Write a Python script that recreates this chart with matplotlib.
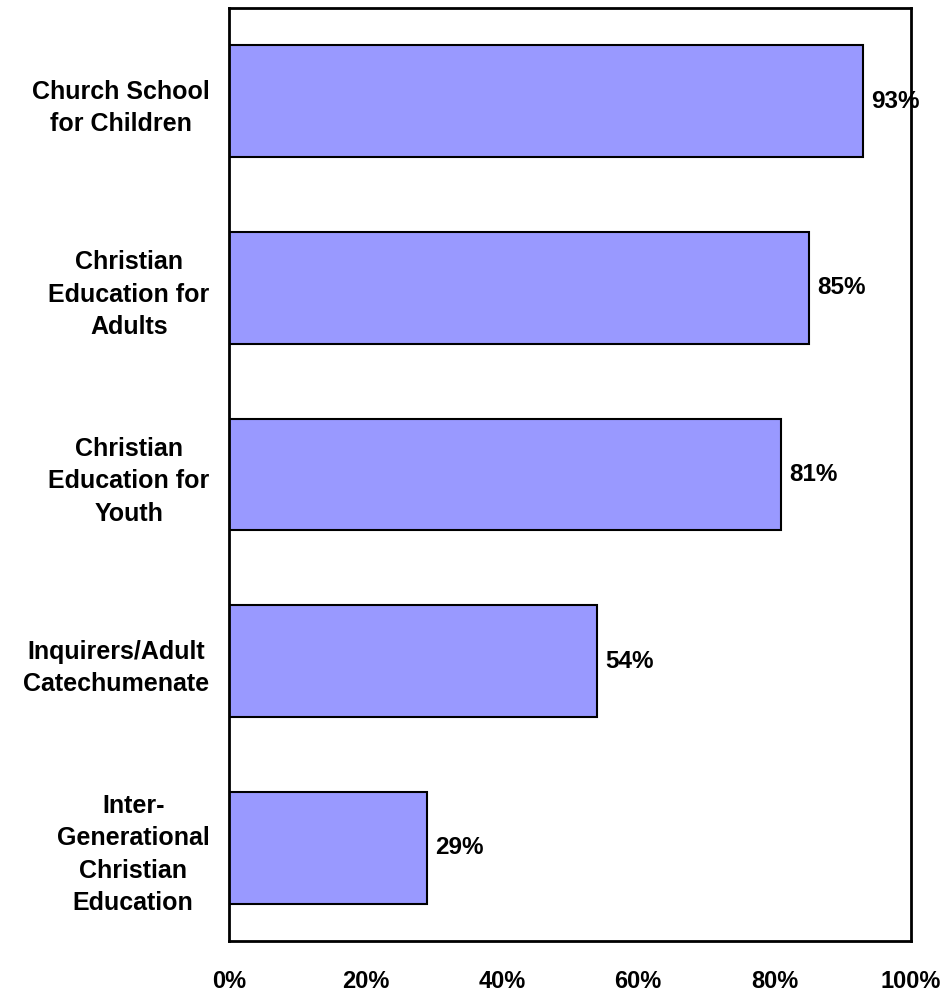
import matplotlib.pyplot as plt
import numpy as np

plt.rcParams['font.family'] = ['Liberation Sans', 'DejaVu Sans']
plt.rcParams['font.weight'] = 'bold'

programs = ["Church School\nfor Children",
            "Christian\nEducation for\nAdults",
            "Christian\nEducation for\nYouth",
            "Inquirers/Adult\nCatechumenate",
            "Inter-\nGenerational\nChristian\nEducation"]
percents = [93, 85, 81, 54, 29]
xticks = [0, 20, 40, 60, 80, 100]

fig = plt.figure(figsize=(9.47, 9.94), dpi=100)
ax = fig.add_axes([229/947, 1 - 941/994, 682/947, 933/994])

y = np.arange(len(programs))[::-1]
ax.barh(y, percents, height=0.6, color='#9999FF', edgecolor='black', linewidth=1.5)

# value labels just past the bar ends
for yi, p in zip(y, percents):
    ax.text(p + 1.2, yi, "{}%".format(p), va='center', ha='left', fontsize=17.5, fontweight='bold')

ax.set_xlim(0, 100)
ax.set_ylim(-0.5, len(programs) - 0.5)
ax.set_xticks(xticks)
ax.set_xticklabels(["{}%".format(t) for t in xticks], fontsize=17, fontweight='bold')
ax.set_yticks(y)
ax.set_yticklabels(programs, fontsize=18, fontweight='bold', multialignment='center', linespacing=1.45)
ax.tick_params(axis='both', length=0)
ax.tick_params(axis='x', pad=21)
ax.tick_params(axis='y', pad=14)
for s in ax.spines.values():
    s.set_linewidth(2)

fig.savefig('out.png', dpi=100)
